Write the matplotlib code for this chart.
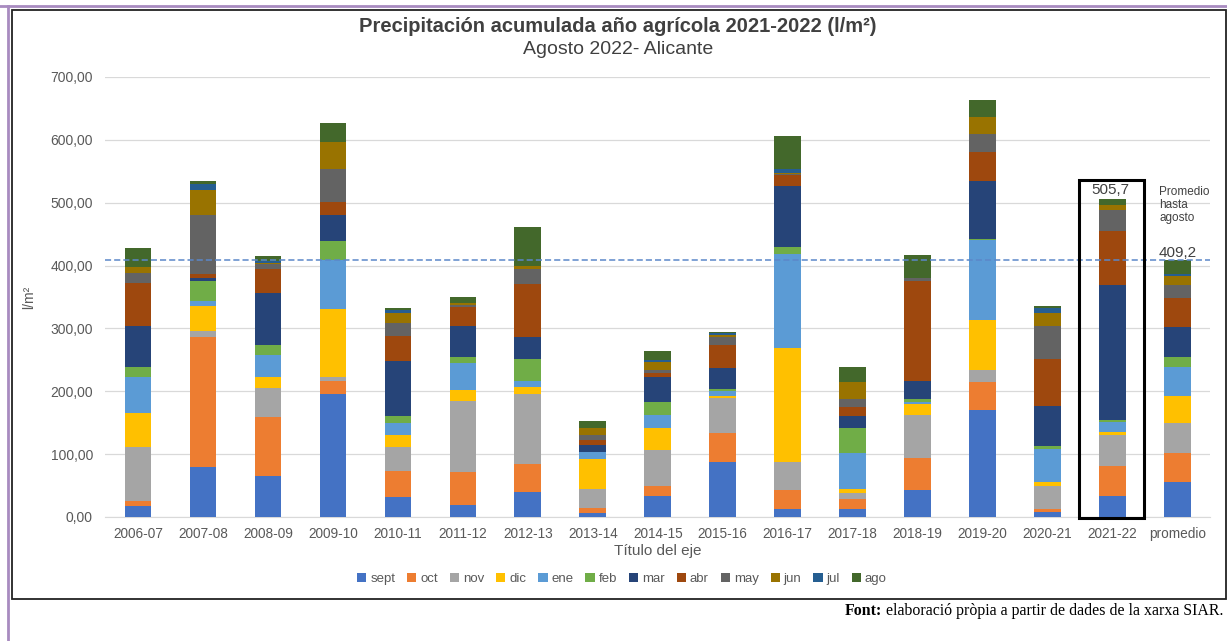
import numpy as np
import matplotlib
matplotlib.use('Agg')
import matplotlib.pyplot as plt
from matplotlib.patches import Rectangle, Patch
from matplotlib.lines import Line2D
from matplotlib.ticker import FuncFormatter

plt.rcParams['font.family'] = ['Liberation Sans', 'DejaVu Sans']

# campañas (eje x)
campanas = ['2006-07', '2007-08', '2008-09', '2009-10', '2010-11', '2011-12', '2012-13',
            '2013-14', '2014-15', '2015-16', '2016-17', '2017-18', '2018-19', '2019-20',
            '2020-21', '2021-22', 'promedio']

# precipitación mensual (l/m2)
sept = [18, 79, 66, 195, 32, 19, 40, 7, 33, 88, 13, 13, 43, 170, 8, 33, 55]
oct_ = [7, 207, 93, 21, 41, 53, 44, 7, 16, 45, 30, 16, 51, 45, 5, 48, 47]
nov = [87, 10, 47, 6, 38, 113, 111, 30, 57, 56, 45, 9, 68, 19, 37, 50, 48]
dic = [53, 40, 16, 109, 19, 17, 12, 48, 36, 4, 181, 6, 17, 80, 5, 4, 43]
ene = [58, 7, 36, 78, 19, 43, 9, 11, 21, 7, 150, 58, 4, 127, 53, 16, 46]
feb = [15, 33, 15, 30, 12, 10, 35, 1, 20, 4, 10, 40, 4, 2, 5, 3, 15]
mar = [66, 4, 83, 41, 87, 49, 35, 10, 40, 33, 98, 19, 29, 92, 64, 215, 49]
abr = [69, 6, 39, 21, 40, 30, 84, 8, 6, 37, 17, 14, 160, 46, 74, 86, 45]
may = [15, 95, 7, 52, 21, 3, 25, 9, 5, 12, 2, 12, 4, 28, 53, 33, 21]
jun = [9, 40, 2, 44, 15, 3, 4, 10, 12, 3, 2, 28, 0, 27, 20, 8, 15]
jul = [1, 9, 4, 0, 6, 0, 1, 0, 3, 4, 5, 0, 0, 1, 8, 0, 2]
ago = [30, 4, 7, 30, 2, 10, 62, 12, 15, 2, 53, 24, 37, 26, 3, 10, 23]

meses = ['sept', 'oct', 'nov', 'dic', 'ene', 'feb', 'mar', 'abr', 'may', 'jun', 'jul', 'ago']
series = [sept, oct_, nov, dic, ene, feb, mar, abr, may, jun, jul, ago]
colores = ['#4472C4', '#ED7D31', '#A5A5A5', '#FFC000', '#5B9BD5', '#70AD47',
           '#264478', '#9E480E', '#636363', '#997300', '#255E91', '#43682B']

total_2122 = 505.7
promedio_agosto = 409.2

W, H = 1227, 641
fig = plt.figure(figsize=(W / 100, H / 100), dpi=100)
ax = fig.add_axes([105.5 / W, (H - 517) / H, (1210 - 105.5) / W, (517 - 77) / H])

x = np.arange(len(campanas))
bottom = np.zeros(len(campanas))
for nombre, vals, col in zip(meses, series, colores):
    ax.bar(x, vals, width=0.41, bottom=bottom, color=col, label=nombre, zorder=3)
    bottom += np.array(vals)

ax.set_xlim(-0.5, len(campanas) - 0.5)
ax.set_ylim(0, 700)
ax.set_yticks(np.arange(0, 701, 100))
ax.yaxis.set_major_formatter(FuncFormatter(lambda v, p: f'{v:.2f}'.replace('.', ',')))
ax.set_xticks(x)
ax.set_xticklabels(campanas)
ax.tick_params(axis='x', length=0, labelsize=9.8, labelcolor='#595959', pad=7)
ax.tick_params(axis='y', length=0, labelsize=10, labelcolor='#595959', pad=9)
ax.grid(axis='y', color='#D9D9D9', linewidth=0.9, zorder=0)
for s in ['top', 'right', 'left']:
    ax.spines[s].set_visible(False)
ax.spines['bottom'].set_color('#D9D9D9')

ax.set_xlabel('Título del eje', fontsize=11, color='#595959', labelpad=2)
ax.set_ylabel('l/m²', fontsize=10, color='#595959', labelpad=10)

# línea del promedio
ax.axhline(promedio_agosto, color='#5B87C9', linestyle=(0, (4, 2)), linewidth=1.1, zorder=4)

# recuadro campaña 2021-22
ax.add_patch(Rectangle((14.48, -1.5), 1.01, 537, fill=False, edgecolor='black',
                       linewidth=2.2, clip_on=False, zorder=5))
ax.text(14.96, 521, f'{total_2122:.1f}'.replace('.', ','), ha='center', va='center',
        fontsize=11, color='#404040')
ax.text(15.72, 527, 'Promedio\nhasta\nagosto', ha='left', va='top', fontsize=8.5,
        color='#404040', linespacing=1.1)
ax.text(16.0, 420, f'{promedio_agosto:.1f}'.replace('.', ','), ha='center', va='center',
        fontsize=11, color='#404040')

fig.text(618 / W, 1 - 26 / H, 'Precipitación acumulada año agrícola 2021-2022 (l/m²)',
         ha='center', va='center', fontsize=14.5, fontweight='bold', color='#404040')
fig.text(618 / W, 1 - 49 / H, 'Agosto 2022- Alicante', ha='center', va='center',
         fontsize=14, color='#404040')

handles = [Patch(facecolor=c, edgecolor='none') for c in colores]
fig.legend(handles, meses, loc='center', bbox_to_anchor=(622 / W, 1 - 579 / H), ncol=12,
           frameon=False, fontsize=9.5, labelcolor='#595959', handlelength=0.7,
           handleheight=0.7, handletextpad=0.3, columnspacing=0.9)

# marcos
fig.add_artist(Rectangle((11.5 / W, 1 - 599 / H), (1225.5 - 11.5) / W, (599 - 10) / H,
                         transform=fig.transFigure, fill=False, edgecolor='#222222', linewidth=1.3))
fig.add_artist(Line2D([0, 1], [1 - 6 / H, 1 - 6 / H], transform=fig.transFigure,
                      color='#A88BC0', linewidth=2))
fig.add_artist(Line2D([8 / W, 8 / W], [0, 1 - 6 / H], transform=fig.transFigure,
                      color='#A88BC0', linewidth=2))

# fuente
fig.canvas.draw()
r = fig.canvas.get_renderer()
t2 = fig.text(1223 / W, 1 - 611 / H, 'elaboració pròpia a partir de dades de la xarxa SIAR.',
              ha='right', va='center', fontsize=11.4, family='Liberation Serif', color='black')
bb = t2.get_window_extent(renderer=r)
fig.text((bb.x0 - 4) / W, 1 - 611 / H, 'Font:', ha='right', va='center', fontsize=11.4,
         family='Liberation Serif', fontweight='bold', color='black')

fig.savefig('out.png', dpi=100)
